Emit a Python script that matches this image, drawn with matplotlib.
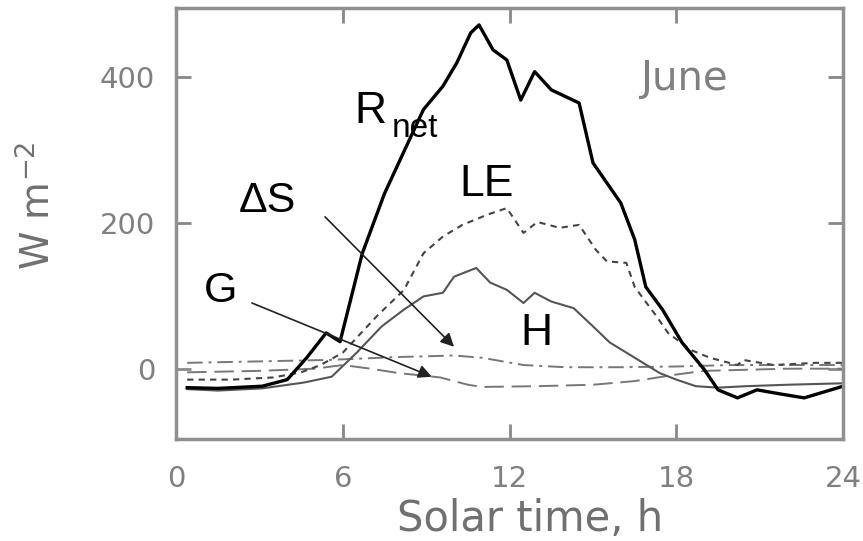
import matplotlib
matplotlib.use("Agg")
import matplotlib.pyplot as plt

plt.rcParams['font.family'] = ['Liberation Sans', 'DejaVu Sans']
plt.rcParams['mathtext.default'] = 'regular'

# ── data ──
rnet_h = [0.4, 1.5, 3.1, 4.0, 4.7, 5.4, 5.9, 6.7, 7.5, 8.4, 8.9, 9.6, 10.1, 10.6, 10.9,
          11.4, 11.9, 12.4, 12.9, 13.5, 14.5, 15.0, 16.0, 16.5, 16.9, 17.5, 18.2, 19.0,
          19.5, 20.2, 20.9, 21.8, 22.6, 23.3, 24]
rnet_v = [-26, -27, -24, -15, 15, 49, 37, 158, 240, 314, 355, 387, 419, 460, 471,
          437, 423, 368, 407, 382, 364, 282, 227, 177, 112, 81, 36, -1,
          -29, -40, -29, -35, -40, -32, -24]

le_h = [0.4, 2, 3.5, 4.5, 5.2, 6.0, 7.2, 8.2, 8.9, 9.6, 10.3, 11.2, 11.9, 12.5, 13.0,
        13.8, 14.5, 15.1, 15.5, 16.2, 16.5, 17.3, 17.7, 18.5, 19.2, 20.2, 20.4, 21.5, 23, 24]
le_v = [-15, -15, -12, -5, 5, 22, 71, 108, 158, 181, 197, 211, 220, 186, 201,
        193, 197, 163, 147, 145, 112, 71, 49, 26, 15, 5, 12, 5, 8, 8]

h_h = [0.4, 1.5, 3.1, 4.6, 5.6, 6.5, 7.4, 8.2, 8.9, 9.6, 10.0, 10.8, 11.3, 11.9, 12.5,
       12.9, 13.5, 14.3, 15.0, 15.6, 16.2, 16.8, 17.4, 18.0, 18.7, 19.5, 20.5, 22, 24]
h_v = [-28, -30, -27, -19, -11, 22, 58, 81, 99, 104, 126, 138, 118, 108, 90,
       104, 92, 83, 58, 36, 22, 8, -6, -15, -24, -26, -24, -22, -20]

ds_h = [0.4, 3, 5.5, 8, 10, 11, 12.5, 14, 16, 18, 20, 22, 24]
ds_v = [8, 10, 12, 16, 18, 15, 5, 2, 2, 3, 5, 5, 5]

g_h = [0.4, 3, 5, 6, 7, 8, 9.5, 10.5, 11, 13, 15, 16.5, 18, 19, 20, 22, 24]
g_v = [-5, -3, 0, 5, 0, -6, -12, -22, -25, -24, -22, -17, -8, -3, -2, 0, 0]

xticks = [0, 6, 12, 18, 24]
yticks = [0, 200, 400]

# ── figure ──
fig = plt.figure(figsize=(8.63, 5.41), dpi=100)
ax = fig.add_axes([0.204, 0.189, 0.773, 0.796])

ax.plot(ds_h, ds_v, color='#777777', lw=1.4, ls=(0, (8, 3, 1.5, 3)))
ax.plot(g_h, g_v, color='#777777', lw=1.4, ls=(0, (10, 4)))
ax.plot(h_h, h_v, color='#555555', lw=1.5)
ax.plot(le_h, le_v, color='#444444', lw=1.5, ls=(0, (3, 2.5)))
ax.plot(rnet_h, rnet_v, color='black', lw=2.4)

ax.set_xlim(0, 24)
ax.set_ylim(-96, 494)
ax.set_xticks(xticks)
ax.set_yticks(yticks)
ax.tick_params(direction='in', length=11, width=2, colors='#888888',
               labelcolor='#808080', labelsize=21, top=True, right=True)
ax.tick_params(axis='x', pad=19)
ax.tick_params(axis='y', pad=15)
for lab in ax.get_xticklabels() + ax.get_yticklabels():
    lab.set_fontfamily('DejaVu Sans')
for s in ax.spines.values():
    s.set_color('#909090')
    s.set_linewidth(2.5)

ax.set_xlabel('Solar time, h', fontsize=30, color='#707070',
              fontfamily='DejaVu Sans')
ax.xaxis.set_label_coords(0.531, -0.137)
ax.set_ylabel('W m$^{-2}$', fontsize=28, color='#707070',
              fontfamily='DejaVu Sans', va='center')
ax.yaxis.set_label_coords(-0.207, 0.54)

# curve labels
ax.text(6.4, 337, 'R', fontsize=32, color='black')
ax.text(7.77, 318, 'net', fontsize=24, color='black')
ax.text(2.25, 214, 'ΔS', fontsize=31, color='black')
ax.text(10.2, 236, 'LE', fontsize=32, color='black')
ax.text(1.0, 92, 'G', fontsize=31, color='black')
ax.text(12.4, 33, 'H', fontsize=32, color='black')
ax.text(16.7, 382, 'June', fontsize=29, color='#808080', fontfamily='DejaVu Sans')

arrow = dict(arrowstyle='-|>', color='#222222', lw=1.2, mutation_scale=20,
             shrinkA=0, shrinkB=0)
ax.annotate('', xy=(10.0, 30), xytext=(5.36, 208), arrowprops=arrow)
ax.annotate('', xy=(9.2, -11), xytext=(2.73, 90), arrowprops=arrow)

fig.savefig('out.png', dpi=100)
